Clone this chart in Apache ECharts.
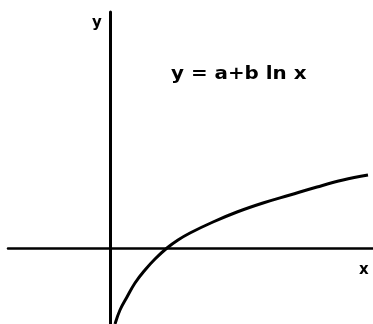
<!DOCTYPE html>
<html>
<head>
<meta charset="utf-8">
<script src="https://cdn.jsdelivr.net/npm/echarts@6/dist/echarts.min.js"></script>
<style>html,body{margin:0;padding:0;background:#fff}#c{width:373px;height:324px}</style>
</head>
<body>
<div id="c"></div>
<script>
const curveX = [5, 10, 17, 25, 35, 45, 57, 68, 80, 103, 127, 153, 180, 207, 233, 258];
const curveY = [-76, -62, -49, -35, -22, -11, 0, 8, 15, 26, 36, 45, 53, 61, 68, 73];
const xRange = [-102, 263];
const yRange = [-76, 236];
const labelEquation = 'y = a+b ln x';
const labelX = 'x';
const labelY = 'y';

const chart = echarts.init(document.getElementById('c'), null, {renderer: 'canvas'});
const ink = '#000';
chart.setOption({
  animation: false,
  backgroundColor: '#fff',
  grid: {left: 8, right: 0, top: 12, bottom: 0},
  xAxis: {
    type: 'value', min: xRange[0], max: xRange[1],
    axisLine: {onZero: true, lineStyle: {color: ink, width: 2.5}},
    axisTick: {show: false}, axisLabel: {show: false}, splitLine: {show: false}
  },
  yAxis: {
    type: 'value', min: yRange[0], max: yRange[1],
    axisLine: {onZero: true, lineStyle: {color: ink, width: 3}},
    axisTick: {show: false}, axisLabel: {show: false}, splitLine: {show: false}
  },
  graphic: [
    {type: 'text', left: 92, top: 16, style: {text: labelY, font: 'bold 15px "DejaVu Sans"', fill: ink}},
    {type: 'text', x: 171, y: 66, scaleX: 1.17, style: {text: labelEquation, font: 'bold 17px "DejaVu Sans"', fill: ink}},
    {type: 'text', left: 359, top: 263, style: {text: labelX, font: 'bold 15px "DejaVu Sans"', fill: ink}}
  ],
  series: [{
    type: 'line',
    data: curveX.map((x, i) => [x, curveY[i]]),
    smooth: 0.4,
    showSymbol: false,
    clip: true,
    lineStyle: {color: ink, width: 3}
  }]
});
</script>
</body>
</html>
